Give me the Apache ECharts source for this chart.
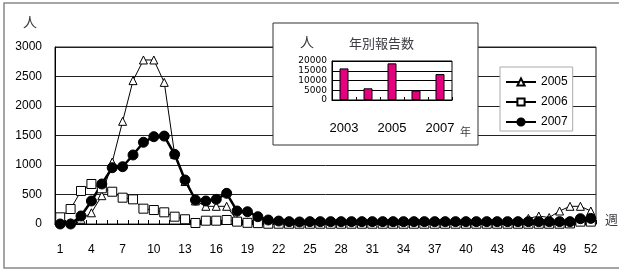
<!DOCTYPE html>
<html>
<head>
<meta charset="utf-8">
<script src="https://cdn.jsdelivr.net/npm/echarts@6/dist/echarts.min.js"></script>
<style>
    html, body { margin: 0; padding: 0; background: #fff; }
    #main { width: 619px; height: 273px; }
</style>
</head>
<body>
<div id="main"></div>
<script>
// 週 (x軸カテゴリ)
const weeks = ['1', '2', '3', '4', '5', '6', '7', '8', '9', '10', '11', '12', '13',
    '14', '15', '16', '17', '18', '19', '20', '21', '22', '23', '24', '25', '26',
    '27', '28', '29', '30', '31', '32', '33', '34', '35', '36', '37', '38', '39',
    '40', '41', '42', '43', '44', '45', '46', '47', '48', '49', '50', '51', '52'];

// 週別報告数
const y2005 = [20, 20, 80, 190, 480, 1050, 1740, 2430, 2780, 2780, 2400, 1180, 720,
    390, 300, 300, 300, 60, 30, 20, 15, 15, 15, 15, 15, 15, 15, 15, 15, 15,
    15, 15, 15, 15, 15, 15, 15, 15, 15, 15, 15, 15, 20, 20, 30, 95, 135, 110,
    220, 300, 300, 220];
const y2006 = [113, 254, 560, 678, 605, 547, 446, 418, 260, 237, 198, 124, 80,
    17, 56, 56, 68, 40, 20, 15, 5, 5, 5, 5, 5, 5, 5, 5, 5, 5, 5, 5, 5, 5, 5,
    5, 5, 5, 5, 5, 5, 5, 5, 5, 5, 5, 5, 5, 5, 10, 40, 40];
const y2007 = [0, 0, 136, 390, 678, 954, 971, 1170, 1385, 1480, 1490, 1181, 746,
    407, 390, 418, 520, 220, 208, 124, 68, 50, 40, 35, 40, 40, 40, 40, 40, 40,
    40, 40, 40, 40, 40, 40, 40, 40, 40, 40, 40, 40, 40, 40, 40, 40, 40, 40, 40,
    40, 90, 95];

// 年別報告数
const years = ['2003', '2004', '2005', '2006', '2007'];
const yearTotals = [16200, 6000, 18800, 4800, 13300];

const jpFont = '"Noto Sans CJK JP", sans-serif';
const numFont = '"Liberation Sans", Arial, sans-serif';
const plain = (v) => String(v); // 桁区切りなし

let myChart = echarts.init(document.getElementById('main'));

let option = {
    animation: false,
    backgroundColor: '#fff',
    textStyle: { fontFamily: numFont, color: '#000' },
    title: [
        { text: '人', left: 23, top: 15, padding: 0, textStyle: { fontFamily: jpFont, fontSize: 14, fontWeight: 'normal' } },
        { text: '週', left: 605, top: 213, padding: 0, textStyle: { fontFamily: jpFont, fontSize: 13, fontWeight: 'normal' } },
        { text: '人', left: 300, top: 35, padding: 0, textStyle: { fontFamily: jpFont, fontSize: 14, fontWeight: 'normal' } },
        { text: '年別報告数', left: 349, top: 37, padding: 0, textStyle: { fontFamily: jpFont, fontSize: 13, fontWeight: 'normal' } },
        { text: '年', left: 460, top: 126, padding: 0, textStyle: { fontFamily: jpFont, fontSize: 11, fontWeight: 'normal' } }
    ],
    graphic: [
        {
            type: 'rect',
            shape: { x: 4, y: 3, width: 660, height: 265 },
            style: { fill: 'none', stroke: '#888', lineWidth: 1.5 },
            z: -1
        },
        {
            type: 'rect',
            shape: { x: 273, y: 23, width: 205, height: 122 },
            style: { fill: '#fff', stroke: '#333', lineWidth: 1 },
            z: 1
        }
    ],
    legend: {
        orient: 'vertical',
        left: 500,
        top: 67,
        padding: [8, 5, 2, 5],
        itemWidth: 30,
        itemHeight: 9,
        itemGap: 6,
        backgroundColor: '#fff',
        borderColor: '#aaa',
        borderWidth: 1,
        textStyle: { fontSize: 12, fontFamily: numFont, color: '#000', lineHeight: 14 },
        data: ['2005', '2006', '2007']
    },
    grid: [
        {
            left: 55, top: 47, width: 541, height: 177,
            show: true, borderColor: '#222', borderWidth: 1
        },
        {
            left: 332, top: 61, width: 120, height: 39,
            show: true, borderColor: '#000', borderWidth: 1, backgroundColor: '#fff', z: 2
        }
    ],
    xAxis: [
        {
            type: 'category',
            gridIndex: 0,
            data: weeks,
            boundaryGap: true,
            axisLine: { lineStyle: { color: '#000', width: 1 } },
            axisTick: { show: true, inside: true, length: 4, interval: 0, lineStyle: { color: '#000' } },
            axisLabel: { interval: 2, margin: 20, fontSize: 12, color: '#000' }
        },
        {
            type: 'category',
            gridIndex: 1,
            data: years,
            z: 3,
            axisLine: { lineStyle: { color: '#000', width: 1 } },
            axisTick: { show: true, inside: true, length: 3, interval: 0, lineStyle: { color: '#000' } },
            axisLabel: { interval: 1, margin: 22, fontSize: 13, color: '#000' }
        }
    ],
    yAxis: [
        {
            type: 'value',
            gridIndex: 0,
            min: 0,
            max: 3000,
            interval: 500,
            axisLine: { show: true, lineStyle: { color: '#000' } },
            axisTick: { show: false },
            axisLabel: { margin: 13, fontSize: 12, color: '#000', formatter: plain },
            splitLine: { show: true, lineStyle: { color: '#222', width: 1 } }
        },
        {
            type: 'value',
            gridIndex: 1,
            min: 0,
            max: 20000,
            interval: 5000,
            z: 3,
            axisLine: { show: true, lineStyle: { color: '#000' } },
            axisTick: { show: false },
            axisLabel: {
                margin: 5, fontSize: 9, color: '#000', lineHeight: 9,
                fontFamily: '"DejaVu Sans", sans-serif', formatter: plain
            },
            splitLine: { show: true, lineStyle: { color: '#000', width: 1 } }
        }
    ],
    series: [
        {
            name: '2005',
            type: 'line',
            data: y2005,
            symbol: 'triangle',
            symbolSize: 8,
            showAllSymbol: true,
            lineStyle: { color: '#000', width: 1 },
            itemStyle: { color: '#fff', borderColor: '#000', borderWidth: 1 }
        },
        {
            name: '2006',
            type: 'line',
            data: y2006,
            symbol: 'rect',
            symbolSize: 9,
            showAllSymbol: true,
            lineStyle: { color: '#000', width: 1 },
            itemStyle: { color: '#fff', borderColor: '#000', borderWidth: 1 }
        },
        {
            name: '2007',
            type: 'line',
            data: y2007,
            symbol: 'circle',
            symbolSize: 10,
            showAllSymbol: true,
            lineStyle: { color: '#000', width: 2.5 },
            itemStyle: { color: '#000', borderColor: '#000', borderWidth: 1 }
        },
        {
            name: '年別報告数',
            type: 'bar',
            xAxisIndex: 1,
            yAxisIndex: 1,
            data: yearTotals,
            barWidth: 9,
            z: 4,
            itemStyle: { color: '#e4007f', borderColor: '#000', borderWidth: 1 }
        }
    ]
};

myChart.setOption(option);
</script>
</body>
</html>
